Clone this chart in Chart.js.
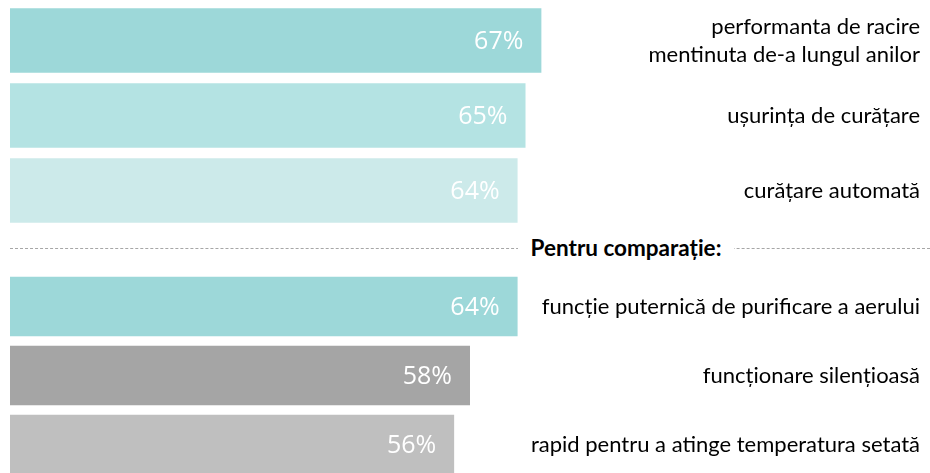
<!DOCTYPE html>
<html>
<head>
<meta charset="utf-8">
<script src="https://cdn.jsdelivr.net/npm/chart.js@4"></script>
<style>
    html, body { margin: 0; padding: 0; background: #fff; overflow: hidden; }
    body { width: 930px; height: 473px; position: relative; }
    .box { position: absolute; left: 0; width: 930px; }
    #top-box { top: 2.5px; height: 225px; }
    #bottom-box { top: 271.5px; height: 207px; }
    .separator { position: absolute; left: 10px; right: 0; top: 248px; border-top: 1px dashed #a6a6a6; }
    .separator-label {
        position: absolute; left: 518px; top: 235px; width: 216px; height: 26px;
        background: #fff; text-align: center; line-height: 26px;
        font-family: Lato, sans-serif; font-weight: bold; font-size: 22.5px; color: #000;
    }
</style>
</head>
<body>
<div class="box" id="top-box"><canvas id="top-chart"></canvas></div>
<div class="separator"></div>
<div class="separator-label">Pentru comparație:</div>
<div class="box" id="bottom-box"><canvas id="bottom-chart"></canvas></div>
<script>
// Features of the product
const topLabels = [
    ['performanta de racire', 'mentinuta de-a lungul anilor'],
    'ușurința de curățare',
    'curățare automată'
];
const topValues = [67, 65, 64];
const topColors = ['#9dd8d9', '#b4e3e3', '#cceaea'];

// "Pentru comparație" group
const bottomLabels = [
    'funcție puternică de purificare a aerului',
    'funcționare silențioasă',
    'rapid pentru a atinge temperatura setată'
];
const bottomValues = [64, 58, 56];
const bottomColors = ['#9dd8d9', '#a5a5a5', '#bfbfbf'];

const X_MAX = 116;

// value inside the bar end + category text on the right
const labelPlugin = {
    id: 'barLabels',
    afterDatasetsDraw(chart) {
        const ctx = chart.ctx;
        const meta = chart.getDatasetMeta(0);
        const yScale = chart.scales.y;
        const labels = chart.data.labels;
        ctx.save();
        meta.data.forEach((bar, i) => {
            ctx.fillStyle = '#ffffff';
            ctx.font = '25px "Open Sans", sans-serif';
            ctx.textAlign = 'right';
            ctx.textBaseline = 'middle';
            ctx.fillText(chart.data.datasets[0].data[i] + '%', bar.x - 18, bar.y + 1);

            const y = yScale.getPixelForValue(i);
            const lines = Array.isArray(labels[i]) ? labels[i] : [labels[i]];
            ctx.fillStyle = '#000000';
            ctx.font = '22px Lato, sans-serif';
            lines.forEach((line, j) => {
                const off = (j - (lines.length - 1) / 2) * 28;
                ctx.fillText(line, 920, y + off);
            });
        });
        ctx.restore();
    }
};

function makeChart(canvasId, labels, values, colors) {
    return new Chart(canvasId, {
        type: 'bar',
        data: {
            labels,
            datasets: [{
                data: values,
                backgroundColor: colors,
                borderWidth: 0,
                categoryPercentage: 1,
                barPercentage: 0.86
            }]
        },
        options: {
            indexAxis: 'y',
            responsive: true,
            maintainAspectRatio: false,
            animation: false,
            layout: { padding: { left: 10, right: 0, top: 0, bottom: 0 } },
            plugins: { legend: { display: false }, tooltip: { enabled: false } },
            scales: {
                x: { display: false, min: 0, max: X_MAX },
                y: { display: false }
            }
        },
        plugins: [labelPlugin]
    });
}

makeChart('top-chart', topLabels, topValues, topColors);
makeChart('bottom-chart', bottomLabels, bottomValues, bottomColors);
</script>
</body>
</html>
